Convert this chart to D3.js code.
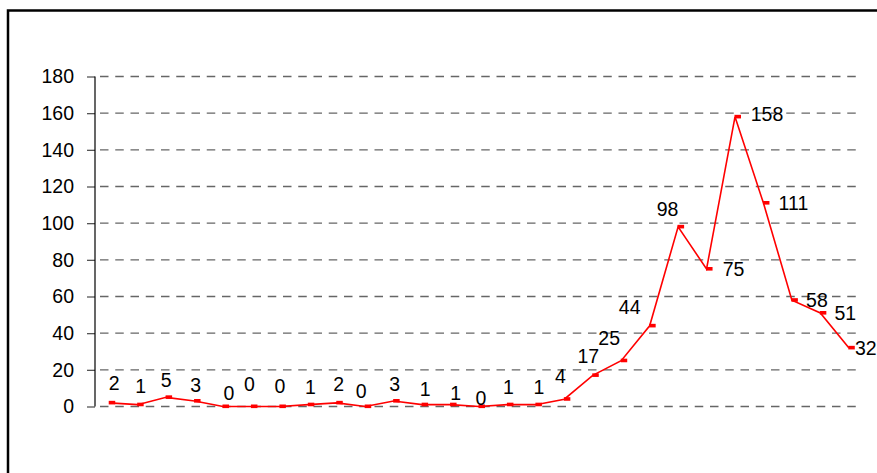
<!DOCTYPE html>
<html>
<head>
<meta charset="utf-8">
<script src="https://cdn.jsdelivr.net/npm/d3@7"></script>
<style>
  html, body { margin: 0; padding: 0; background: #fff; }
  svg { display: block; font-family: "Liberation Sans", Arial, sans-serif; }
</style>
</head>
<body>
<svg id="chart" width="877" height="473"></svg>
<script>
// ---- data ----
const categories = d3.range(1, 28).map(String);
const values = [2, 1, 5, 3, 0, 0, 0, 1, 2, 0, 3, 1, 1, 0, 1, 1, 4, 17, 25, 44, 98, 75, 158, 111, 58, 51, 32];
const yTicks = [0, 20, 40, 60, 80, 100, 120, 140, 160, 180];
// label placement offsets (annotation layout, relative to each point)
const labelDx = [5, 3, 0, 1, 6, -2, 0, 2, 2, -4, 1, 3, 5, 2, 1, 3, -4, -4.5, -12, -20, -10.5, 27, 32, 30, 25, 25, 17];
const labelDy = [-20, -19, -17, -16, -14, -23, -21, -18, -19, -16, -17, -16, -12, -9, -18, -18, -23, -19, -23, -19, -18, 0, -3, 0, 0, 0, 0];

const svg = d3.select("#chart");

// frame
svg.append("rect")
  .attr("x", 8).attr("y", 10.5)
  .attr("width", 900).attr("height", 500)
  .attr("fill", "none").attr("stroke", "#000").attr("stroke-width", 2.5);

const x = d3.scaleBand().domain(categories).range([95, 863]).padding(0);
const y = d3.scaleLinear().domain([0, 180]).range([406.5, 76.5]);
const px = (d, i) => x(categories[i]) + x.bandwidth() / 2;

// gridlines
const grid = svg.append("g");
grid.selectAll("line.grid").data(yTicks).join("line")
  .attr("class", "grid")
  .attr("x1", 100).attr("x2", 856)
  .attr("y1", d => y(d)).attr("y2", d => y(d))
  .attr("stroke", "#666").attr("stroke-width", 1.3)
  .attr("stroke-dasharray", "8.5,6.75");

// y axis
const yAxis = d3.axisLeft(y).tickValues(yTicks).tickSize(8).tickPadding(13).tickFormat(d3.format("d"));
const ya = svg.append("g").attr("transform", "translate(95,0)").call(yAxis);
ya.select(".domain").remove();
ya.selectAll(".tick line").attr("stroke", "#555").attr("stroke-width", 1.3);
ya.selectAll(".tick text")
  .attr("font-size", 19.5).attr("fill", "#000")
  .attr("font-family", "'Liberation Sans', Arial, sans-serif");
svg.append("line")
  .attr("x1", 95).attr("x2", 95)
  .attr("y1", y(180)).attr("y2", y(0))
  .attr("stroke", "#000").attr("stroke-width", 1.2);

// line
const line = d3.line().x((d, i) => px(d, i)).y(d => y(d));
svg.append("path").datum(values)
  .attr("d", line)
  .attr("fill", "none").attr("stroke", "#ff0000").attr("stroke-width", 1.6);

// markers
svg.selectAll("rect.mk").data(values).join("rect")
  .attr("class", "mk")
  .attr("x", (d, i) => px(d, i) - 0.5)
  .attr("y", d => y(d) - 2)
  .attr("width", 6.5).attr("height", 3.6)
  .attr("fill", "#ff0000");

// data labels
svg.selectAll("text.lbl").data(values).join("text")
  .attr("class", "lbl")
  .attr("x", (d, i) => px(d, i) + labelDx[i])
  .attr("y", (d, i) => y(d) + labelDy[i])
  .attr("text-anchor", "middle")
  .attr("dominant-baseline", "central")
  .attr("font-size", 19.5)
  .attr("fill", "#000")
  .text(d => d);
</script>
</body>
</html>
